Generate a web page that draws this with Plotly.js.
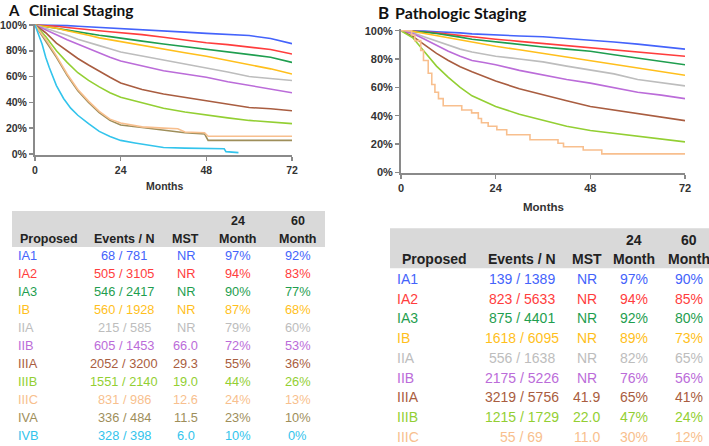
<!DOCTYPE html>
<html><head><meta charset="utf-8">
<script src="https://cdn.plot.ly/plotly-3.0.1.min.js"></script>
<style>html,body{margin:0;padding:0;background:#fff;} #chart{width:709px;height:446px;}</style>
</head><body><div id="chart"></div>
<script>
// ---------- DATA ----------
const headerTop = ['', '', '', '24', '60'];
const headerBottom = ['Proposed', 'Events / N', 'MST', 'Month', 'Month'];
const xTickVals = [0, 24, 48, 72];
const xTickText = ['0', '24', '48', '72'];
const yTickVals = [0, 0.2, 0.4, 0.6, 0.8, 1.0];
const yTickText = ['0%', '20%', '40%', '60%', '80%', '100%'];

// Clinical staging table
const clinStages = ['IA1','IA2','IA3','IB','IIA','IIB','IIIA','IIIB','IIIC','IVA','IVB'];
const clinEventsN = ['68 / 781','505 / 3105','546 / 2417','560 / 1928','215 / 585','605 / 1453','2052 / 3200','1551 / 2140','831 / 986','336 / 484','328 / 398'];
const clinMST = ['NR','NR','NR','NR','NR','66.0','29.3','19.0','12.6','11.5','6.0'];
const clin24 = ['97%','94%','90%','87%','79%','72%','55%','44%','24%','23%','10%'];
const clin60 = ['92%','83%','77%','68%','60%','53%','36%','26%','13%','10%','0%'];

// Pathologic staging table
const pathStages = ['IA1','IA2','IA3','IB','IIA','IIB','IIIA','IIIB','IIIC'];
const pathEventsN = ['139 / 1389','823 / 5633','875 / 4401','1618 / 6095','556 / 1638','2175 / 5226','3219 / 5756','1215 / 1729','55 / 69'];
const pathMST = ['NR','NR','NR','NR','NR','NR','41.9','22.0','11.0'];
const path24 = ['97%','94%','92%','89%','82%','76%','65%','47%','30%'];
const path60 = ['90%','85%','80%','73%','65%','56%','41%','24%','12%'];

// Clinical survival curves (months, survival fraction)
const months = [0,3,6,9,12,15,18,21,24,30,36,42,48,54,60,66,72];
const clinIA1 = [1.00,1.00,0.998,0.995,0.99,0.986,0.982,0.976,0.97,0.962,0.956,0.945,0.935,0.925,0.918,0.895,0.855];
const clinIA2 = [1.00,0.997,0.99,0.98,0.97,0.962,0.955,0.947,0.94,0.925,0.905,0.885,0.862,0.848,0.83,0.81,0.775];
const clinIA3 = [1.00,0.99,0.975,0.96,0.945,0.932,0.92,0.91,0.90,0.875,0.853,0.832,0.812,0.79,0.77,0.75,0.71];
const clinIB  = [1.00,0.99,0.975,0.955,0.94,0.92,0.90,0.885,0.87,0.84,0.81,0.785,0.757,0.725,0.69,0.66,0.62];
const clinIIA = [1.00,0.975,0.95,0.92,0.89,0.862,0.84,0.815,0.79,0.76,0.73,0.70,0.67,0.635,0.60,0.585,0.57];
const clinIIB = [1.00,0.965,0.925,0.885,0.85,0.815,0.785,0.75,0.72,0.68,0.645,0.62,0.595,0.56,0.53,0.505,0.475];
const clinIIIA = [1.00,0.94,0.86,0.80,0.74,0.69,0.64,0.595,0.55,0.50,0.465,0.44,0.415,0.385,0.36,0.35,0.335];
const clinIIIB = [1.00,0.91,0.80,0.71,0.63,0.57,0.52,0.475,0.44,0.395,0.355,0.325,0.30,0.28,0.26,0.245,0.235];
const monthsLate = [0,3,6,9,12,15,18,21,24,30,36,40,42,47.5,48.5,72];
const clinIIIC = [1.00,0.89,0.76,0.62,0.50,0.41,0.33,0.27,0.24,0.21,0.20,0.195,0.17,0.165,0.137,0.137];
const clinIVA  = [1.00,0.88,0.75,0.61,0.49,0.40,0.32,0.26,0.225,0.205,0.185,0.175,0.165,0.155,0.105,0.105];
const monthsIVB = [0,1,2,3,4,6,8,10,12,15,18,21,24,28,32,36,42,48,53,53.5,57];
const clinIVB  = [1.00,0.93,0.85,0.75,0.67,0.53,0.43,0.355,0.30,0.235,0.175,0.135,0.105,0.085,0.065,0.05,0.045,0.043,0.04,0.018,0.01];

// Pathologic survival curves
const pathIA1 = [1.00,1.00,0.998,0.993,0.99,0.985,0.978,0.973,0.97,0.963,0.957,0.945,0.935,0.92,0.905,0.89,0.87];
const pathIA2 = [1.00,0.998,0.993,0.985,0.975,0.965,0.955,0.948,0.94,0.925,0.91,0.895,0.885,0.87,0.855,0.84,0.82];
const pathIA3 = [1.00,0.997,0.99,0.98,0.97,0.955,0.94,0.93,0.92,0.905,0.885,0.87,0.855,0.83,0.805,0.785,0.76];
const pathIB  = [1.00,0.995,0.98,0.965,0.945,0.93,0.915,0.90,0.89,0.865,0.84,0.815,0.79,0.765,0.735,0.71,0.685];
const pathIIA = [1.00,0.985,0.955,0.925,0.895,0.87,0.85,0.835,0.82,0.80,0.78,0.75,0.72,0.695,0.655,0.635,0.61];
const pathIIB = [1.00,0.98,0.94,0.895,0.855,0.82,0.79,0.775,0.76,0.72,0.685,0.655,0.63,0.60,0.565,0.545,0.52];
const pathIIIA = [1.00,0.96,0.90,0.84,0.79,0.745,0.71,0.675,0.645,0.59,0.545,0.505,0.465,0.44,0.41,0.385,0.365];
const pathIIIB = [1.00,0.95,0.85,0.75,0.67,0.60,0.54,0.50,0.465,0.41,0.365,0.325,0.295,0.275,0.25,0.23,0.215];
const monthsPathIIIC = [0,2.7,3.5,5.0,5.7,6.9,7.8,8.6,9.5,10.7,15.4,17.9,19.6,20.4,22.1,24.3,26.8,32.7,39.8,41.2,46.2,50.9,72];
const pathIIIC = [1.00,0.97,0.93,0.86,0.79,0.70,0.62,0.565,0.52,0.47,0.44,0.42,0.38,0.35,0.325,0.30,0.265,0.23,0.205,0.18,0.157,0.13,0.13];

// ---------- STYLE ----------
const colors = {
  IA1:'#4463fb', IA2:'#ff3d3d', IA3:'#1f9e4f', IB:'#ffbf1c', IIA:'#bdbdbd', IIB:'#bb6cd9',
  IIIA:'#a95d40', IIIB:'#93cf33', IIIC:'#f8bf8e', IVA:'#9e8e5a', IVB:'#33c4ec'
};
const W = 709, H = 446;
const px = x => x / W;
const py = y => 1 - y / H;

const clinCurves = [
  ['IA1', months, clinIA1], ['IA2', months, clinIA2], ['IA3', months, clinIA3], ['IB', months, clinIB],
  ['IIA', months, clinIIA], ['IIB', months, clinIIB], ['IIIA', months, clinIIIA], ['IIIB', months, clinIIIB],
  ['IVA', monthsLate, clinIVA], ['IIIC', monthsLate, clinIIIC], ['IVB', monthsIVB, clinIVB]
];
const pathCurves = [
  ['IA1', months, pathIA1], ['IA2', months, pathIA2], ['IA3', months, pathIA3], ['IB', months, pathIB],
  ['IIA', months, pathIIA], ['IIB', months, pathIIB], ['IIIA', months, pathIIIA], ['IIIB', months, pathIIIB],
  ['IIIC', monthsPathIIIC, pathIIIC]
];

const traces = [];
clinCurves.forEach(([s, x, y]) => traces.push({
  type:'scatter', mode:'lines', x:x, y:y, xaxis:'x', yaxis:'y', name:s,
  line:{color:colors[s], width:1.6, shape:'linear'}, hoverinfo:'skip'
}));
pathCurves.forEach(([s, x, y]) => traces.push({
  type:'scatter', mode:'lines', x:x, y:y, xaxis:'x2', yaxis:'y2', name:s,
  line:{color:colors[s], width:1.6, shape: s === 'IIIC' ? 'hv' : 'linear'}, hoverinfo:'skip'
}));

function axisX(domain, fs, standoff){
  return {domain:domain, range:[0,72], tickvals:xTickVals, ticktext:xTickText,
    showline:true, linecolor:'#8a8a8a', linewidth:2, ticks:'outside', ticklen:4, tickwidth:1.5, tickcolor:'#8a8a8a',
    showgrid:false, zeroline:false, ticklabelstandoff:standoff,
    tickfont:{family:'Liberation Sans, Arial, sans-serif', size:fs, color:'#333', weight:700}, fixedrange:true};
}
function axisY(domain, fs){
  return {domain:domain, range:[-0.005,1.01], tickvals:yTickVals, ticktext:yTickText,
    showline:true, linecolor:'#8a8a8a', linewidth:2, ticks:'outside', ticklen:4, tickwidth:1.5, tickcolor:'#8a8a8a',
    showgrid:false, zeroline:false,
    tickfont:{family:'Liberation Sans, Arial, sans-serif', size:fs, color:'#333', weight:700}, fixedrange:true};
}

const annotations = [];
const shapes = [];
function txt(x, y, text, opts){
  annotations.push(Object.assign({xref:'paper', yref:'paper', x:px(x), y:py(y), text:text, showarrow:false,
    xanchor:'center', yanchor:'middle',
    font:{family:'Liberation Sans, Arial, sans-serif', size:12.5, color:'#222'}}, opts||{}));
}

// titles
txt(7, 0, '<b>A</b>', {xanchor:'left', yanchor:'top', borderpad:0, font:{family:'Lato, sans-serif', size:15, color:'#111'}});
txt(28, 0.5, '<b>Clinical Staging</b>', {xanchor:'left', yanchor:'top', borderpad:0, font:{family:'Lato, sans-serif', size:15.5, color:'#111'}});
txt(376, 13, '<b>B</b>', {xanchor:'left', font:{family:'Lato, sans-serif', size:17, color:'#111'}});
txt(393, 13, '<b>Pathologic Staging</b>', {xanchor:'left', font:{family:'Lato, sans-serif', size:16, color:'#111'}});
// axis titles
txt(164, 186, '<b>Months</b>', {font:{family:'Liberation Sans, Arial, sans-serif', size:10.5, color:'#333'}});
txt(543, 207, '<b>Months</b>', {font:{family:'Liberation Sans, Arial, sans-serif', size:11.5, color:'#333'}});

function table(cfg){
  shapes.push({type:'rect', xref:'paper', yref:'paper', x0:px(cfg.bx0), x1:px(cfg.bx1), y0:py(cfg.by1), y1:py(cfg.by0),
    fillcolor:'#d9d9d9', line:{width:0}, layer:'below'});
  const cols = cfg.cols;
  headerBottom.forEach((h, i) => {
    if (headerTop[i]) txt(cols[i], cfg.hTopY, '<b>' + headerTop[i] + '</b>', {font:{family:'Liberation Sans, Arial, sans-serif', size:cfg.hfs, color:'#222'}});
    txt(i === 0 ? cfg.propX : cols[i], cfg.hBotY, '<b>' + h + '</b>', {font:{family:'Liberation Sans, Arial, sans-serif', size:cfg.hfs, color:'#222'}});
  });
  cfg.stages.forEach((s, r) => {
    const y = cfg.row0 + r * cfg.rowStep;
    const f = {family:'Liberation Sans, Arial, sans-serif', size:cfg.fs, color:colors[s]};
    txt(cfg.stageX, y, s, {xanchor:'left', font:f});
    txt(cols[1], y, cfg.ev[r], {font:f});
    txt(cols[2], y, cfg.mst[r], {font:f});
    txt(cols[3], y, cfg.m24[r], {font:f});
    txt(cols[4], y, cfg.m60[r], {font:f});
  });
}
table({bx0:12, bx1:325, by0:211, by1:247, cols:[48, 124, 185.7, 238, 297.8], propX:48.5,
  hTopY:221, hBotY:238.5, hfs:12.5, fs:12.8, stageX:16, row0:255.7, rowStep:17.93,
  stages:clinStages, ev:clinEventsN, mst:clinMST, m24:clin24, m60:clin60});
table({bx0:390, bx1:709, by0:228.3, by1:268.3, cols:[434, 521.8, 586.5, 634, 689], propX:434,
  hTopY:239.5, hBotY:259.3, hfs:14, fs:14, stageX:394.5, row0:279, rowStep:19.7,
  stages:pathStages, ev:pathEventsN, mst:pathMST, m24:path24, m60:path60});

const layout = {
  width:W, height:H, margin:{l:0, r:0, t:0, b:0}, showlegend:false,
  paper_bgcolor:'#fff', plot_bgcolor:'rgba(0,0,0,0)',
  xaxis: axisX([px(35), px(292)], 10.5, 1),
  yaxis: axisY([py(154.6), py(23.7)], 10.5),
  xaxis2: axisX([px(401), px(685)], 11, 0),
  yaxis2: axisY([py(173.0), py(29.3)], 11),
  annotations: annotations, shapes: shapes
};
layout.yaxis.anchor = 'x'; layout.xaxis.anchor = 'y';
layout.yaxis2.anchor = 'x2'; layout.xaxis2.anchor = 'y2';

Plotly.newPlot('chart', traces, layout, {staticPlot:true, displayModeBar:false});
</script>
</body></html>
